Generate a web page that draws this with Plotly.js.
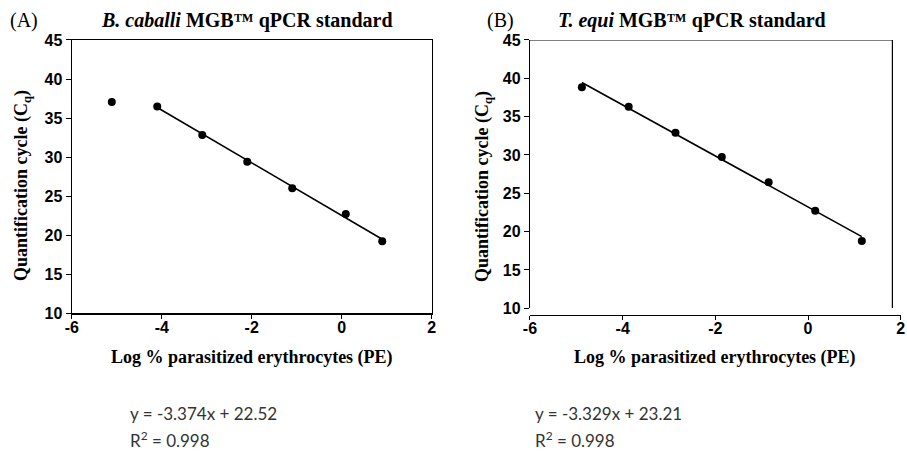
<!DOCTYPE html>
<html>
<head>
<meta charset="utf-8">
<script src="https://cdn.plot.ly/plotly-3.0.1.min.js"></script>
<style>html,body{margin:0;padding:0;background:#fff;}#chart{width:907px;height:459px;}</style>
</head>
<body>
<div id="chart"></div>
<script>
// Panel A: B. caballi
const logPE_A = [-5.11, -4.10, -3.10, -2.10, -1.10, 0.09, 0.90];
const cq_A    = [37.05, 36.49, 32.82, 29.40, 26.03, 22.73, 19.23];
const slope_A = -3.374, intercept_A = 22.52, r2_A = 0.998;
const fitRange_A = [-4.10, 0.90];

// Panel B: T. equi
const logPE_B = [-4.88, -3.87, -2.86, -1.86, -0.85, 0.155, 1.16];
const cq_B    = [38.83, 36.30, 32.90, 29.73, 26.43, 22.73, 18.78];
const slope_B = -3.329, intercept_B = 23.21, r2_B = 0.998;
const fitRange_B = [-4.88, 1.16];

const xTicks = [-6, -4, -2, 0, 2];
const yTicks = [10, 15, 20, 25, 30, 35, 40, 45];

function fitLine(range, m, b) {
  return { x: range, y: range.map(v => m * v + b) };
}
const fA = fitLine(fitRange_A, slope_A, intercept_A);
const fB = fitLine(fitRange_B, slope_B, intercept_B);

const markerStyle = { color: '#000', size: 8 };
const traces = [
  { x: fA.x, y: fA.y, mode: 'lines', line: { color: '#000', width: 1.6 }, xaxis: 'x', yaxis: 'y', hoverinfo: 'skip' },
  { x: logPE_A, y: cq_A, mode: 'markers', marker: markerStyle, xaxis: 'x', yaxis: 'y' },
  { x: fB.x, y: fB.y, mode: 'lines', line: { color: '#000', width: 1.6 }, xaxis: 'x2', yaxis: 'y2', hoverinfo: 'skip' },
  { x: logPE_B, y: cq_B, mode: 'markers', marker: markerStyle, xaxis: 'x2', yaxis: 'y2' }
];

const sans = 'Arial, Liberation Sans, sans-serif';
const serif = 'Times New Roman, Liberation Serif, serif';
const tickFont = { family: sans, size: 16, color: '#000' };
const titleFont = { family: serif, size: 18, color: '#000' };
const yTitle = '<b>Quantification cycle (C<sub>q</sub>)</b>';
const xTitle = '<b>Log % parasitized erythrocytes (PE)</b>';
const bold = v => '<b>' + v + '</b>';

function xAxis(domain, extra) {
  return Object.assign({
    domain: domain, range: [-6, 2], tickvals: xTicks, ticktext: xTicks.map(bold),
    showgrid: false, zeroline: false, showline: true, linecolor: '#000', linewidth: 1.2,
    ticks: 'outside', ticklen: 4, tickcolor: '#000', tickwidth: 1, tickfont: tickFont,
    ticklabelstandoff: -5, fixedrange: true
  }, extra);
}
function yAxis(domain, extra) {
  return Object.assign({
    domain: domain, range: [10, 45], tickvals: yTicks, ticktext: yTicks.map(bold),
    showgrid: false, zeroline: false, showline: true, linecolor: '#000', linewidth: 1.2,
    ticks: 'outside', ticklen: 5, tickcolor: '#000', tickwidth: 1, tickfont: tickFont,
    fixedrange: true
  }, extra);
}

const eqFont = { family: 'Lato, Open Sans, sans-serif', size: 17, color: '#333' };
function fmtEq(m, b) { return 'y = ' + m.toFixed(3) + 'x + ' + b.toFixed(2); }
const panelFont = { family: serif, size: 20, color: '#000' };

function paperText(text, px, py, font, extra) {
  return Object.assign({ text: text, xref: 'paper', yref: 'paper', x: px / 907, y: 1 - py / 459,
    xanchor: 'center', yanchor: 'middle', showarrow: false, font: font }, extra || {});
}

const layout = {
  width: 907, height: 459,
  margin: { l: 0, r: 0, t: 0, b: 0 },
  paper_bgcolor: '#fff', plot_bgcolor: '#fff',
  font: { family: serif, color: '#000' },
  showlegend: false,
  xaxis: xAxis([0.0791, 0.476], { anchor: 'y', mirror: true }),
  yaxis: yAxis([0.3174, 0.9129], { anchor: 'x', mirror: true }),
  xaxis2: xAxis([0.5843, 0.9931], { anchor: 'free', position: 0.3137 }),
  yaxis2: yAxis([0.3283, 0.9129], { anchor: 'x2' }),
  shapes: [
    { type: 'line', xref: 'x2', yref: 'y2', x0: -6, x1: 1.82, y0: 45, y1: 45, line: { color: '#000', width: 1.2 } },
    { type: 'line', xref: 'x2', yref: 'y2', x0: 1.82, x1: 1.82, y0: 45, y1: 10, line: { color: '#000', width: 1.2 } }
  ],
  annotations: [
    paperText('(A)', 8, 21, panelFont, { xanchor: 'left' }),
    paperText('<b><i>B. caballi</i> MGB™ qPCR standard</b>', 247, 21, panelFont),
    paperText('(B)', 485, 21, panelFont, { xanchor: 'left' }),
    paperText('<b><i>T. equi</i> MGB™ qPCR standard</b>', 692, 21, panelFont),
    paperText(yTitle, 22, 186, titleFont, { textangle: -90 }),
    paperText(yTitle, 483, 186, titleFont, { textangle: -90 }),
    paperText(xTitle, 252, 357, titleFont),
    paperText(xTitle, 715, 357, titleFont),
    paperText(fmtEq(slope_A, intercept_A), 128, 413, eqFont, { xanchor: 'left' }),
    paperText('R<sup>2</sup> = ' + r2_A.toFixed(3), 128, 439, eqFont, { xanchor: 'left' }),
    paperText(fmtEq(slope_B, intercept_B), 533, 413, eqFont, { xanchor: 'left' }),
    paperText('R<sup>2</sup> = ' + r2_B.toFixed(3), 533, 439, eqFont, { xanchor: 'left' })
  ]
};

Plotly.newPlot('chart', traces, layout, { displayModeBar: false, staticPlot: true });
</script>
</body>
</html>
